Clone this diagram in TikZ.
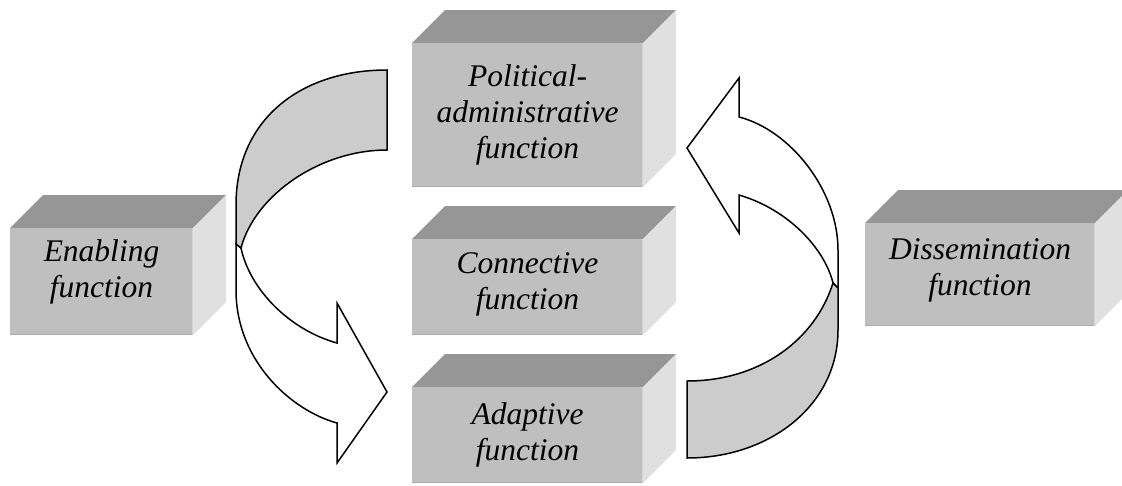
\documentclass[tikz,border=0pt]{standalone}
\usepackage{fontspec}
\setmainfont{Liberation Serif}
\newfontfamily\boxfont{Liberation Serif Italic}
\begin{document}
\begin{tikzpicture}[x=1pt,y=-1pt,
  topface/.style={fill=black!41},
  sideface/.style={fill=black!12},
  frontface/.style={fill=black!25},
  frontedge/.style={draw=black!33,line width=1.2pt},
  sideedge/.style={draw=black!17,line width=1.2pt},
  boxlabel/.style={align=center,inner sep=0pt,font=\boxfont\fontsize{31.5}{36}\selectfont},
  arrowwhite/.style={fill=white,draw=black,line width=1.5pt,line join=miter},
  arrowgray/.style={fill=black!20,draw=black,line width=1.5pt,line join=miter}]
\useasboundingbox (0,0) rectangle (1122,485);
\clip (0,0) rectangle (1122,485);
\newcommand{\funcbox}[7]{%
  \fill[topface] (#2,#3) -- (#2+33,#3-33) -- (#4+33,#3-33) -- (#4,#3) -- cycle;
  \fill[sideface] (#4,#3) -- (#4+33,#3-33) -- (#4+33,#5-33) -- (#4,#5) -- cycle;
  \fill[frontface] (#2,#3) rectangle (#4,#5);
  \draw[frontedge] (#2,#5-0.6) -- (#4,#5-0.6);
  \draw[sideedge] (#4-0.6,#3) -- (#4-0.6,#5);
  \node[boxlabel] (#1) at ({(#2+#4)/2},#6) {#7};
}
\funcbox{enabling}{10}{228}{193}{335}{272}{Enabling\\function}
\funcbox{political}{412}{43}{643}{187}{114.5}{Political-\\administrative\\function}
\funcbox{connective}{412}{239}{643}{335}{284.5}{Connective\\function}
\funcbox{adaptive}{412}{387}{643}{483}{434.5}{Adaptive\\function}
\funcbox{dissemination}{865}{223}{1095}{326}{270}{Dissemination\\function}
% left curved arrow (down)
\filldraw[arrowwhite] (241,248) -- (236,244) -- (236,290)
  .. controls (236,360) and (290,410) .. (337,423) -- (337,463) -- (387,392)
  -- (337,303) -- (337,343) .. controls (290,330) and (250,290) .. (241,248) -- cycle;
\filldraw[arrowgray] (387,70) .. controls (300,70) and (236,120) .. (236,205)
  -- (236,244) -- (241,248) .. controls (255,195) and (320,150) .. (387,150) -- cycle;
% right curved arrow (up)
\filldraw[arrowwhite] (833,283) -- (838,288) -- (838,250)
  .. controls (838,190) and (790,130) .. (739,117) -- (739,78) -- (687,148)
  -- (739,233) -- (739,195) .. controls (790,210) and (825,250) .. (833,283) -- cycle;
\filldraw[arrowgray] (687,381) -- (687,458) .. controls (770,458) and (838,405) .. (838,330)
  -- (838,288) -- (833,283) .. controls (815,340) and (760,381) .. (687,381) -- cycle;
\end{tikzpicture}
\end{document}
